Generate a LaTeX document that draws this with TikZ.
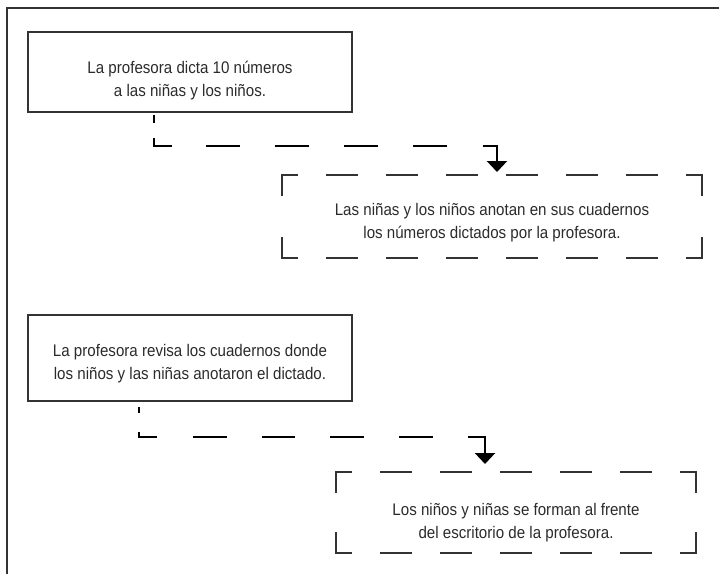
\documentclass[tikz,border=0pt]{standalone}
\usepackage{fontspec}
\setmainfont{Liberation Sans}[FakeStretch=0.9]
\usetikzlibrary{arrows.meta}
\definecolor{ink}{HTML}{2B2B2B}
\definecolor{edge}{HTML}{333333}
\begin{document}
\begin{tikzpicture}[x=1pt,y=-1pt,
  framestyle/.style={draw=edge,line width=1.4pt},
  solidbox/.style={draw=edge,line width=1.3pt,inner sep=0pt,outer sep=0pt,minimum width=324pt},
  dbox/.style={draw=none,inner sep=0pt,outer sep=0pt},
  dline/.style={draw=edge,line width=1.3pt,line cap=rect},
  hdash/.style={dash pattern=on 30pt off 30pt,dash phase=15pt},
  txt/.style={align=center,text=ink,inner sep=0pt,font=\fontsize{16.8pt}{23pt}\selectfont},
  conn/.style={draw=black,line width=2.4pt,-{Triangle[width=20pt,length=11pt]}}
]
\useasboundingbox (0,0) rectangle (719,574);
\draw[framestyle] (7,574) -- (7,8) -- (719,8);

% boxes
\node[solidbox,minimum height=80pt] (b1) at (190,72) {};
\node[txt] (t1) at (190,81) {La profesora dicta 10 números\\a las niñas y los niños.};

\node[dbox,minimum width=420pt,minimum height=83pt] (b2) at (492,216.5) {};
\node[txt] (t2) at (492,223) {Las niñas y los niños anotan en sus cuadernos\\los números dictados por la profesora.};

\node[solidbox,minimum height=86pt] (b3) at (190,358) {};
\node[txt] (t3) at (190,363.5) {La profesora revisa los cuadernos donde\\los niños y las niñas anotaron el dictado.};

\node[dbox,minimum width=360pt,minimum height=81pt] (b4) at (516,512.5) {};
\node[txt] (t4) at (516,523) {Los niños y niñas se forman al frente\\del escritorio de la profesora.};

% dashed frames
\draw[dline,hdash] (b2.north west) -- (b2.north east);
\draw[dline,hdash] (b2.south west) -- (b2.south east);
\draw[dline,dash pattern=on 20pt off 43pt] (b2.north west) -- (b2.south west);
\draw[dline,dash pattern=on 20pt off 43pt] (b2.north east) -- (b2.south east);

\draw[dline,hdash] (b4.north west) -- (b4.north east);
\draw[dline,hdash] (b4.south west) -- (b4.south east);
\draw[dline,dash pattern=on 20pt off 41pt] (b4.north west) -- (b4.south west);
\draw[dline,dash pattern=on 20pt off 41pt] (b4.north east) -- (b4.south east);

% connectors
\draw[conn,dash pattern=on 8pt off 15pt on 26pt off 34pt on 34pt off 35pt on 34pt off 35pt on 34pt off 35pt on 34pt off 36pt on 100pt off 10pt]
  ([xshift=126pt,yshift=-3pt]b1.south west) -- ++(0,31) -| ([xshift=215pt,yshift=3pt]b2.north west);
\draw[conn,dash pattern=on 6pt off 19pt on 23pt off 36pt on 34pt off 35pt on 33pt off 35pt on 34pt off 35pt on 34pt off 35pt on 100pt off 10pt]
  ([xshift=111pt,yshift=-6pt]b3.south west) -- ++(0,30) -| ([xshift=149pt,yshift=8pt]b4.north west);
\end{tikzpicture}
\end{document}
